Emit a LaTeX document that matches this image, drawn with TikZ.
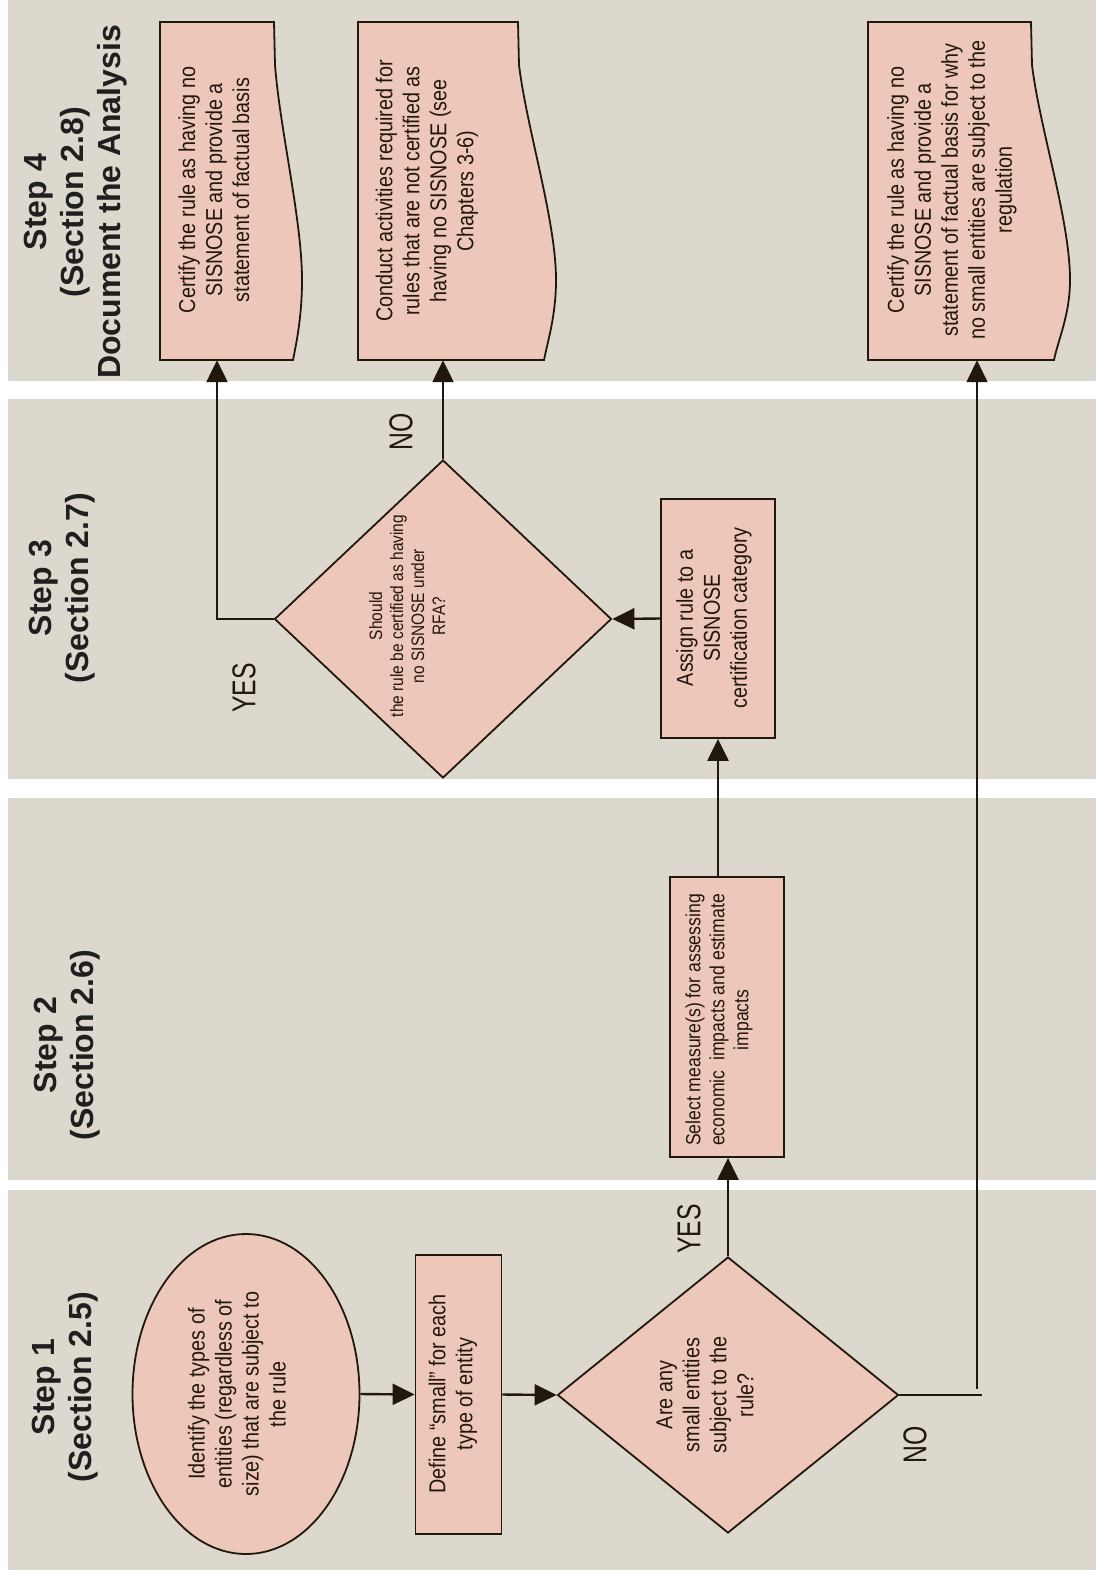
\documentclass[tikz,border=0pt]{standalone}
\usepackage{fontspec}
\setmainfont{Liberation Sans}
\newfontfamily\nf[FakeStretch=0.86]{Liberation Sans}
\newfontfamily\lf[FakeStretch=0.75]{Liberation Sans}
\usetikzlibrary{shapes.geometric,arrows.meta}
\pgfdeclarelayer{bands}
\pgfdeclarelayer{back}
\pgfsetlayers{bands,back,main}
\definecolor{beige}{HTML}{DCD8CE}
\definecolor{pinkfill}{HTML}{EDC7B9}
\definecolor{ink}{HTML}{21180B}
\tikzset{
  shapebox/.style={draw=ink, fill=pinkfill, line width=1.8pt, inner sep=0pt},
  docline/.style={draw=ink, fill=pinkfill, line width=1.8pt, line join=miter},
  txt/.style={rotate=90, align=center, text=ink, inner sep=0pt, font=\nf\fontsize{23}{27}\selectfont},
  ttl/.style={rotate=90, align=center, text=black!88, inner sep=0pt, font=\bfseries\fontsize{32}{37}\selectfont},
  lbl/.style={rotate=90, text=ink, inner sep=0pt, font=\lf\fontsize{33}{38}\selectfont},
  conn/.style={draw=ink, line width=2.4pt, -{Triangle[length=22pt,width=21pt]}},
  plain/.style={draw=ink, line width=2.2pt},
}
\begin{document}
\begin{tikzpicture}[x=1pt,y=1pt]
\useasboundingbox (0,0) rectangle (1096,-1575);
\begin{pgfonlayer}{bands}
  \fill[white] (0,0) rectangle (1096,-1575);
  \fill[beige] (8,0) rectangle (1096,-381);
  \fill[beige] (8,-399) rectangle (1096,-779);
  \fill[beige] (8,-798) rectangle (1096,-1180);
  \fill[beige] (8,-1190) rectangle (1096,-1570);
\end{pgfonlayer}

% step titles
\node[ttl] (t4) at (76,-202) {Step 4\\(Section 2.8)\\Document the Analysis};
\node[ttl] (t3) at (62,-588) {Step 3\\(Section 2.7)};
\node[ttl] (t2) at (67,-1045) {Step 2\\(Section 2.6)};
\node[ttl] (t1) at (65,-1387) {Step 1\\(Section 2.5)};

% shapes
\node[shapebox, ellipse, minimum width=227, minimum height=320] (ident) at (246,-1394) {};
\node[shapebox, rectangle, minimum width=86, minimum height=279] (define) at (458.5,-1394.5) {};
\node[shapebox, diamond, minimum width=341, minimum height=276] (q1) at (728,-1395) {};
\node[shapebox, rectangle, minimum width=114, minimum height=280] (measure) at (727,-1017) {};
\node[shapebox, rectangle, minimum width=114, minimum height=239] (assign) at (718,-618.5) {};
\node[shapebox, diamond, minimum width=337, minimum height=318] (q2) at (443,-619) {};

% document boxes (regions) and outlines
\node[inner sep=0pt, minimum width=114, minimum height=338] (certA) at (217,-191) {};
\node[inner sep=0pt, minimum width=160, minimum height=338] (certB) at (438,-191) {};
\node[inner sep=0pt, minimum width=163, minimum height=338] (certC) at (949.5,-191) {};
\begin{pgfonlayer}{back}
  \draw[docline] (160,-360) -- (160,-22) -- (274,-22) -- (275,-65)
     .. controls (280,-130) and (302,-220) .. (302,-280)
     .. controls (302,-315) and (297,-340) .. (293,-360) -- cycle;
  \draw[docline] (358,-360) -- (358,-22) -- (518,-22) -- (519,-65)
     .. controls (527,-130) and (556,-220) .. (556,-280)
     .. controls (556,-315) and (548,-340) .. (544,-360) -- cycle;
  \draw[docline] (868,-360) -- (868,-22) -- (1031,-22) -- (1032,-65)
     .. controls (1040,-130) and (1070,-220) .. (1070,-280)
     .. controls (1070,-315) and (1058,-340) .. (1054,-360) -- cycle;
\end{pgfonlayer}

% texts
\node[txt] (identT) at (237,-1394) {Identify the types of\\entities (regardless of\\size) that are subject to\\the rule};
\node[txt] (defineT) at (453,-1394) {Define “small” for each\\type of entity};
\node[txt] (q1T) at (705,-1395) {Are any\\small entities\\subject to the\\rule?};
\node[txt, font=\nf\fontsize{20.5}{24}\selectfont] (measureT) at (719,-1020) {Select measure(s) for assessing\\economic\ \ impacts and estimate\\impacts};
\node[txt] (assignT) at (714,-618) {Assign rule to a\\SISNOSE\\certification category};
\node[txt, font=\nf\fontsize{18}{21}\selectfont] (q2T) at (407,-616) {Should\\the rule be certified as having\\no SISNOSE under\\RFA?};
\node[txt] (certAT) at (214,-190) {Certify the rule as having no\\SISNOSE and provide a\\statement of factual basis};
\node[txt] (certBT) at (427,-191) {Conduct activities required for\\rules that are not certified as\\having no SISNOSE (see\\Chapters 3-6)};
\node[txt] (certCT) at (952,-190) {Certify the rule as having no\\SISNOSE and provide a\\statement of factual basis for why\\no small entities are subject to the\\regulation};

% labels
\node[lbl] (yes2) at (244,-688) {YES};
\node[lbl] (no2) at (401,-432) {NO};
\node[lbl] (yes1) at (689,-1229) {YES};
\node[lbl] (no1) at (915,-1445) {NO};

% connectors
\draw[conn] (ident.east) -- (define.west);
\draw[conn] (define.east) -- (q1.west);
\draw[conn] (q1.north) -- (q1.north |- measure.south);
\draw[conn] (assign.south |- measure.north) -- (assign.south);
\draw[conn] (assign.west) -- (q2.east);
\draw[conn] (q2.north) -- (q2.north |- certB.south);
\draw[conn] (q2.west) -| (certA.south);
\coordinate (noEnd) at (982,-1395);
\coordinate (noTurn) at (977,-1389);
\draw[plain] (q1.east) -- (noEnd);
\draw[conn, line width=1.6pt] (noTurn) -- (noTurn |- certC.south);
\end{tikzpicture}
\end{document}
